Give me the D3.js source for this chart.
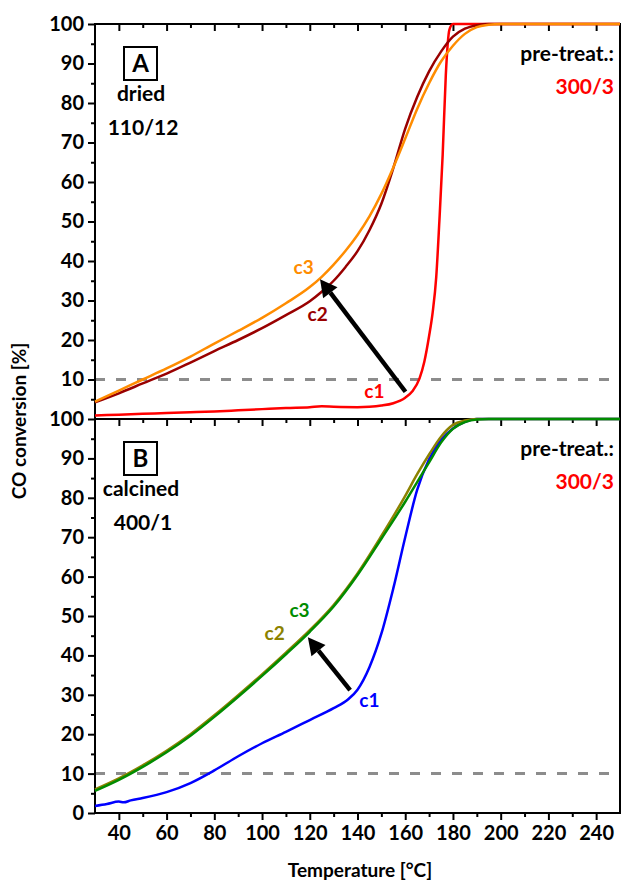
<!DOCTYPE html>
<html>
<head>
<meta charset="utf-8">
<script src="https://cdn.jsdelivr.net/npm/d3@7"></script>
<style>
  body { margin: 0; background: #fff; }
  text { font-family: Lato, "Open Sans", sans-serif; font-weight: bold; }
</style>
</head>
<body>
<div id="chart"></div>
<script>
// tick values
const tempTicks = [40, 60, 80, 100, 120, 140, 160, 180, 200, 220, 240];
const tempMinor = [50, 70, 90, 110, 130, 150, 170, 190, 210, 230];
const convTicks = [0, 10, 20, 30, 40, 50, 60, 70, 80, 90, 100];
const convMinor = [5, 15, 25, 35, 45, 55, 65, 75, 85, 95];

// panel A (dried 110/12), [temperature, conversion]
const dryC1 = [[30,0.9],[40,1.1],[50,1.3],[60,1.5],[70,1.7],[80,1.9],[90,2.2],[100,2.5],[110,2.8],[120,3.0],
  [125,3.2],[130,3.1],[140,3.0],[145,3.1],[150,3.4],[155,4.0],[160,5.4],[163,7.0],[166,10.3],[168,14.5],
  [170,21],[171.5,27],[173,36],[174.3,50],[175.7,67],[177,87],[178.5,98.5],[180,100],[250,100]];
const dryC2 = [[30,4.2],[40,6.5],[50,9],[60,11.5],[70,14.3],[80,17.2],[90,20],[100,23],[110,26.3],[120,29.8],
  [125,32.2],[130,35],[135,38.5],[140,42.5],[145,47.8],[150,54.5],[155,63.5],[160,73.5],[165,81.5],[170,88],
  [175,93],[180,96.8],[185,98.8],[190,99.7],[195,100],[250,100]];
const dryC3 = [[30,4.4],[40,7.2],[50,10],[60,12.8],[70,15.8],[80,19.1],[90,22.3],[100,25.6],[110,29.3],[120,33.4],
  [125,36],[130,39.1],[135,42.6],[140,46.6],[145,51.3],[150,57],[155,63.7],[160,71],[165,78.5],[170,85],
  [175,90.5],[180,94.5],[185,97.5],[190,99.2],[195,99.8],[200,100],[250,100]];

// panel B (calcined 400/1)
const calC1 = [[30,1.8],[35,2.3],[40,2.9],[42,2.7],[45,3.2],[50,3.8],[60,5.3],[70,7.6],[80,10.8],[90,14.4],
  [100,17.7],[110,20.6],[120,23.6],[130,26.6],[136,28.8],[140,31.3],[145,37],[150,45.5],[155,57],
  [160,70],[165,82],[170,89.8],[175,94.7],[180,97.6],[185,99.3],[190,100],[250,100]];
const calC2 = [[30,6.0],[40,8.8],[50,12.1],[60,15.8],[70,20],[80,24.8],[90,29.9],[100,35.2],[110,40.7],
  [120,46.4],[130,52.8],[140,60.8],[150,70.3],[160,80.5],[165,86],[170,91],[175,95.5],[180,98.5],
  [185,99.6],[190,100],[250,100]];
const calC3 = [[30,5.6],[40,8.4],[50,11.7],[60,15.4],[70,19.6],[80,24.4],[90,29.5],[100,34.8],[110,40.3],
  [120,46],[130,52.4],[140,60.4],[150,69.6],[160,79],[165,84],[170,89],[175,94],[180,97.5],
  [185,99.2],[190,99.9],[195,100],[250,100]];

const threshold = 10;

const W = 622, H = 884;
const svg = d3.select("#chart").append("svg").attr("width", W).attr("height", H);

const x = d3.scaleLinear().domain([30, 250]).range([95, 620]);

const panels = [
  { key: "A", top: 24, bottom: 419, state: ["dried", "110/12"],
    series: [[dryC1, "#ff0000"], [dryC2, "#990000"], [dryC3, "#ff8c00"]],
    labels: [["c3", 117.4, 36.7, "#ff8c00"], ["c2", 123.3, 24.8, "#990000"], ["c1", 147.1, 5.3, "#ff0000"]],
    arrow: [160.1, 6.9, 124.3, 35.4], skipZero: true },
  { key: "B", top: 419, bottom: 813, state: ["calcined", "400/1"],
    series: [[calC1, "#0000ff"], [calC2, "#8c8200"], [calC3, "#008c00"]],
    labels: [["c3", 115.7, 49.7, "#008c00"], ["c2", 105.3, 43.9, "#8c8200"], ["c1", 145, 26.9, "#0000ff"]],
    arrow: [136.9, 31.2, 119.2, 44.6], skipZero: false }
];

panels.forEach(p => {
  const y = d3.scaleLinear().domain([0, 100]).range([p.bottom, p.top]);
  const g = svg.append("g");

  // threshold line
  g.append("line")
    .attr("x1", x(30)).attr("x2", x(250))
    .attr("y1", y(threshold)).attr("y2", y(threshold))
    .attr("stroke", "#8c8c8c").attr("stroke-width", 3)
    .attr("stroke-dasharray", "10,11");

  // left axis
  const left = g.append("g").attr("transform", `translate(${x(30)},0)`)
    .call(d3.axisLeft(y).tickValues(p.skipZero ? convTicks.slice(1) : convTicks)
      .tickSize(7).tickSizeOuter(0).tickPadding(4));
  left.append("g").call(d3.axisLeft(y).tickValues(convMinor).tickSize(4).tickFormat(""));
  left.selectAll(".domain").remove();
  left.selectAll("line").attr("stroke", "#000").attr("stroke-width", 2);
  left.selectAll("text").attr("font-size", 20).attr("fill", "#000")
    .style("font-family", "Lato, sans-serif").style("font-weight", "bold");

  // top ticks, inward
  const top = g.append("g").attr("transform", `translate(0,${p.top})`);
  top.append("g").call(d3.axisBottom(x).tickValues(tempTicks).tickSize(7).tickFormat(""));
  top.append("g").call(d3.axisBottom(x).tickValues(tempMinor).tickSize(4).tickFormat(""));
  top.selectAll(".domain").remove();
  top.selectAll("line").attr("stroke", "#000").attr("stroke-width", 2);

  // frame
  g.append("rect")
    .attr("x", x(30)).attr("y", p.top)
    .attr("width", x(250) - x(30)).attr("height", p.bottom - p.top)
    .attr("fill", "none").attr("stroke", "#000").attr("stroke-width", 2);

  // curves
  const line = d3.line().x(d => x(d[0])).y(d => y(d[1])).curve(d3.curveMonotoneX);
  g.selectAll(".curve").data(p.series).join("path")
    .attr("class", "curve")
    .attr("d", d => line(d[0]))
    .attr("fill", "none")
    .attr("stroke", d => d[1])
    .attr("stroke-width", 2.5)
    .attr("stroke-linejoin", "round");

  // curve labels
  g.selectAll(".clabel").data(p.labels).join("text")
    .attr("class", "clabel")
    .attr("x", d => x(d[1])).attr("y", d => y(d[2]))
    .attr("text-anchor", "middle")
    .attr("font-size", 19)
    .attr("fill", d => d[3])
    .text(d => d[0]);

  // arrow
  const [t0, v0, t1, v1] = p.arrow;
  const ax0 = x(t0), ay0 = y(v0), ax1 = x(t1), ay1 = y(v1);
  const ang = Math.atan2(ay1 - ay0, ax1 - ax0);
  const hl = 17, hw = 9;
  const bx = ax1 - hl * Math.cos(ang), by = ay1 - hl * Math.sin(ang);
  g.append("line")
    .attr("x1", ax0).attr("y1", ay0).attr("x2", bx).attr("y2", by)
    .attr("stroke", "#000").attr("stroke-width", 4.5);
  g.append("path")
    .attr("d", d3.line()([
      [ax1, ay1],
      [bx + hw * Math.sin(ang), by - hw * Math.cos(ang)],
      [bx - hw * Math.sin(ang), by + hw * Math.cos(ang)]
    ]) + "Z")
    .attr("fill", "#000");

  // panel letter box
  const boxY = p.top + 23;
  g.append("rect")
    .attr("x", 124).attr("y", boxY).attr("width", 33).attr("height", 33)
    .attr("fill", "#fff").attr("stroke", "#000").attr("stroke-width", 2);
  g.append("text")
    .attr("x", 140.5).attr("y", boxY + 25)
    .attr("text-anchor", "middle").attr("font-size", 24)
    .text(p.key);

  g.append("text").attr("x", 141).attr("y", p.top + 77)
    .attr("text-anchor", "middle").attr("font-size", 21).text(p.state[0]);
  g.append("text").attr("x", 143).attr("y", p.top + 111)
    .attr("text-anchor", "middle").attr("font-size", 21).text(p.state[1]);

  g.append("text").attr("x", 614).attr("y", p.top + 37)
    .attr("text-anchor", "end").attr("font-size", 21).text("pre-treat.:");
  g.append("text").attr("x", 614).attr("y", p.top + 70)
    .attr("text-anchor", "end").attr("font-size", 21).attr("fill", "#ff0000").text("300/3");
});

// bottom axis
const bottom = svg.append("g").attr("transform", "translate(0,813)");
bottom.call(d3.axisBottom(x).tickValues(tempTicks).tickSize(7).tickSizeOuter(0).tickPadding(6));
bottom.append("g").call(d3.axisBottom(x).tickValues(tempMinor).tickSize(4).tickFormat(""));
bottom.selectAll(".domain").remove();
bottom.selectAll("line").attr("stroke", "#000").attr("stroke-width", 2);
bottom.selectAll("text").attr("font-size", 20).attr("fill", "#000")
  .style("font-family", "Lato, sans-serif").style("font-weight", "bold");

// axis titles
svg.append("text")
  .attr("transform", "translate(26,421) rotate(-90)")
  .attr("text-anchor", "middle").attr("font-size", 19)
  .text("CO conversion [%]");
svg.append("text")
  .attr("x", 360).attr("y", 877)
  .attr("text-anchor", "middle").attr("font-size", 19)
  .text("Temperature [°C]");
</script>
</body>
</html>
